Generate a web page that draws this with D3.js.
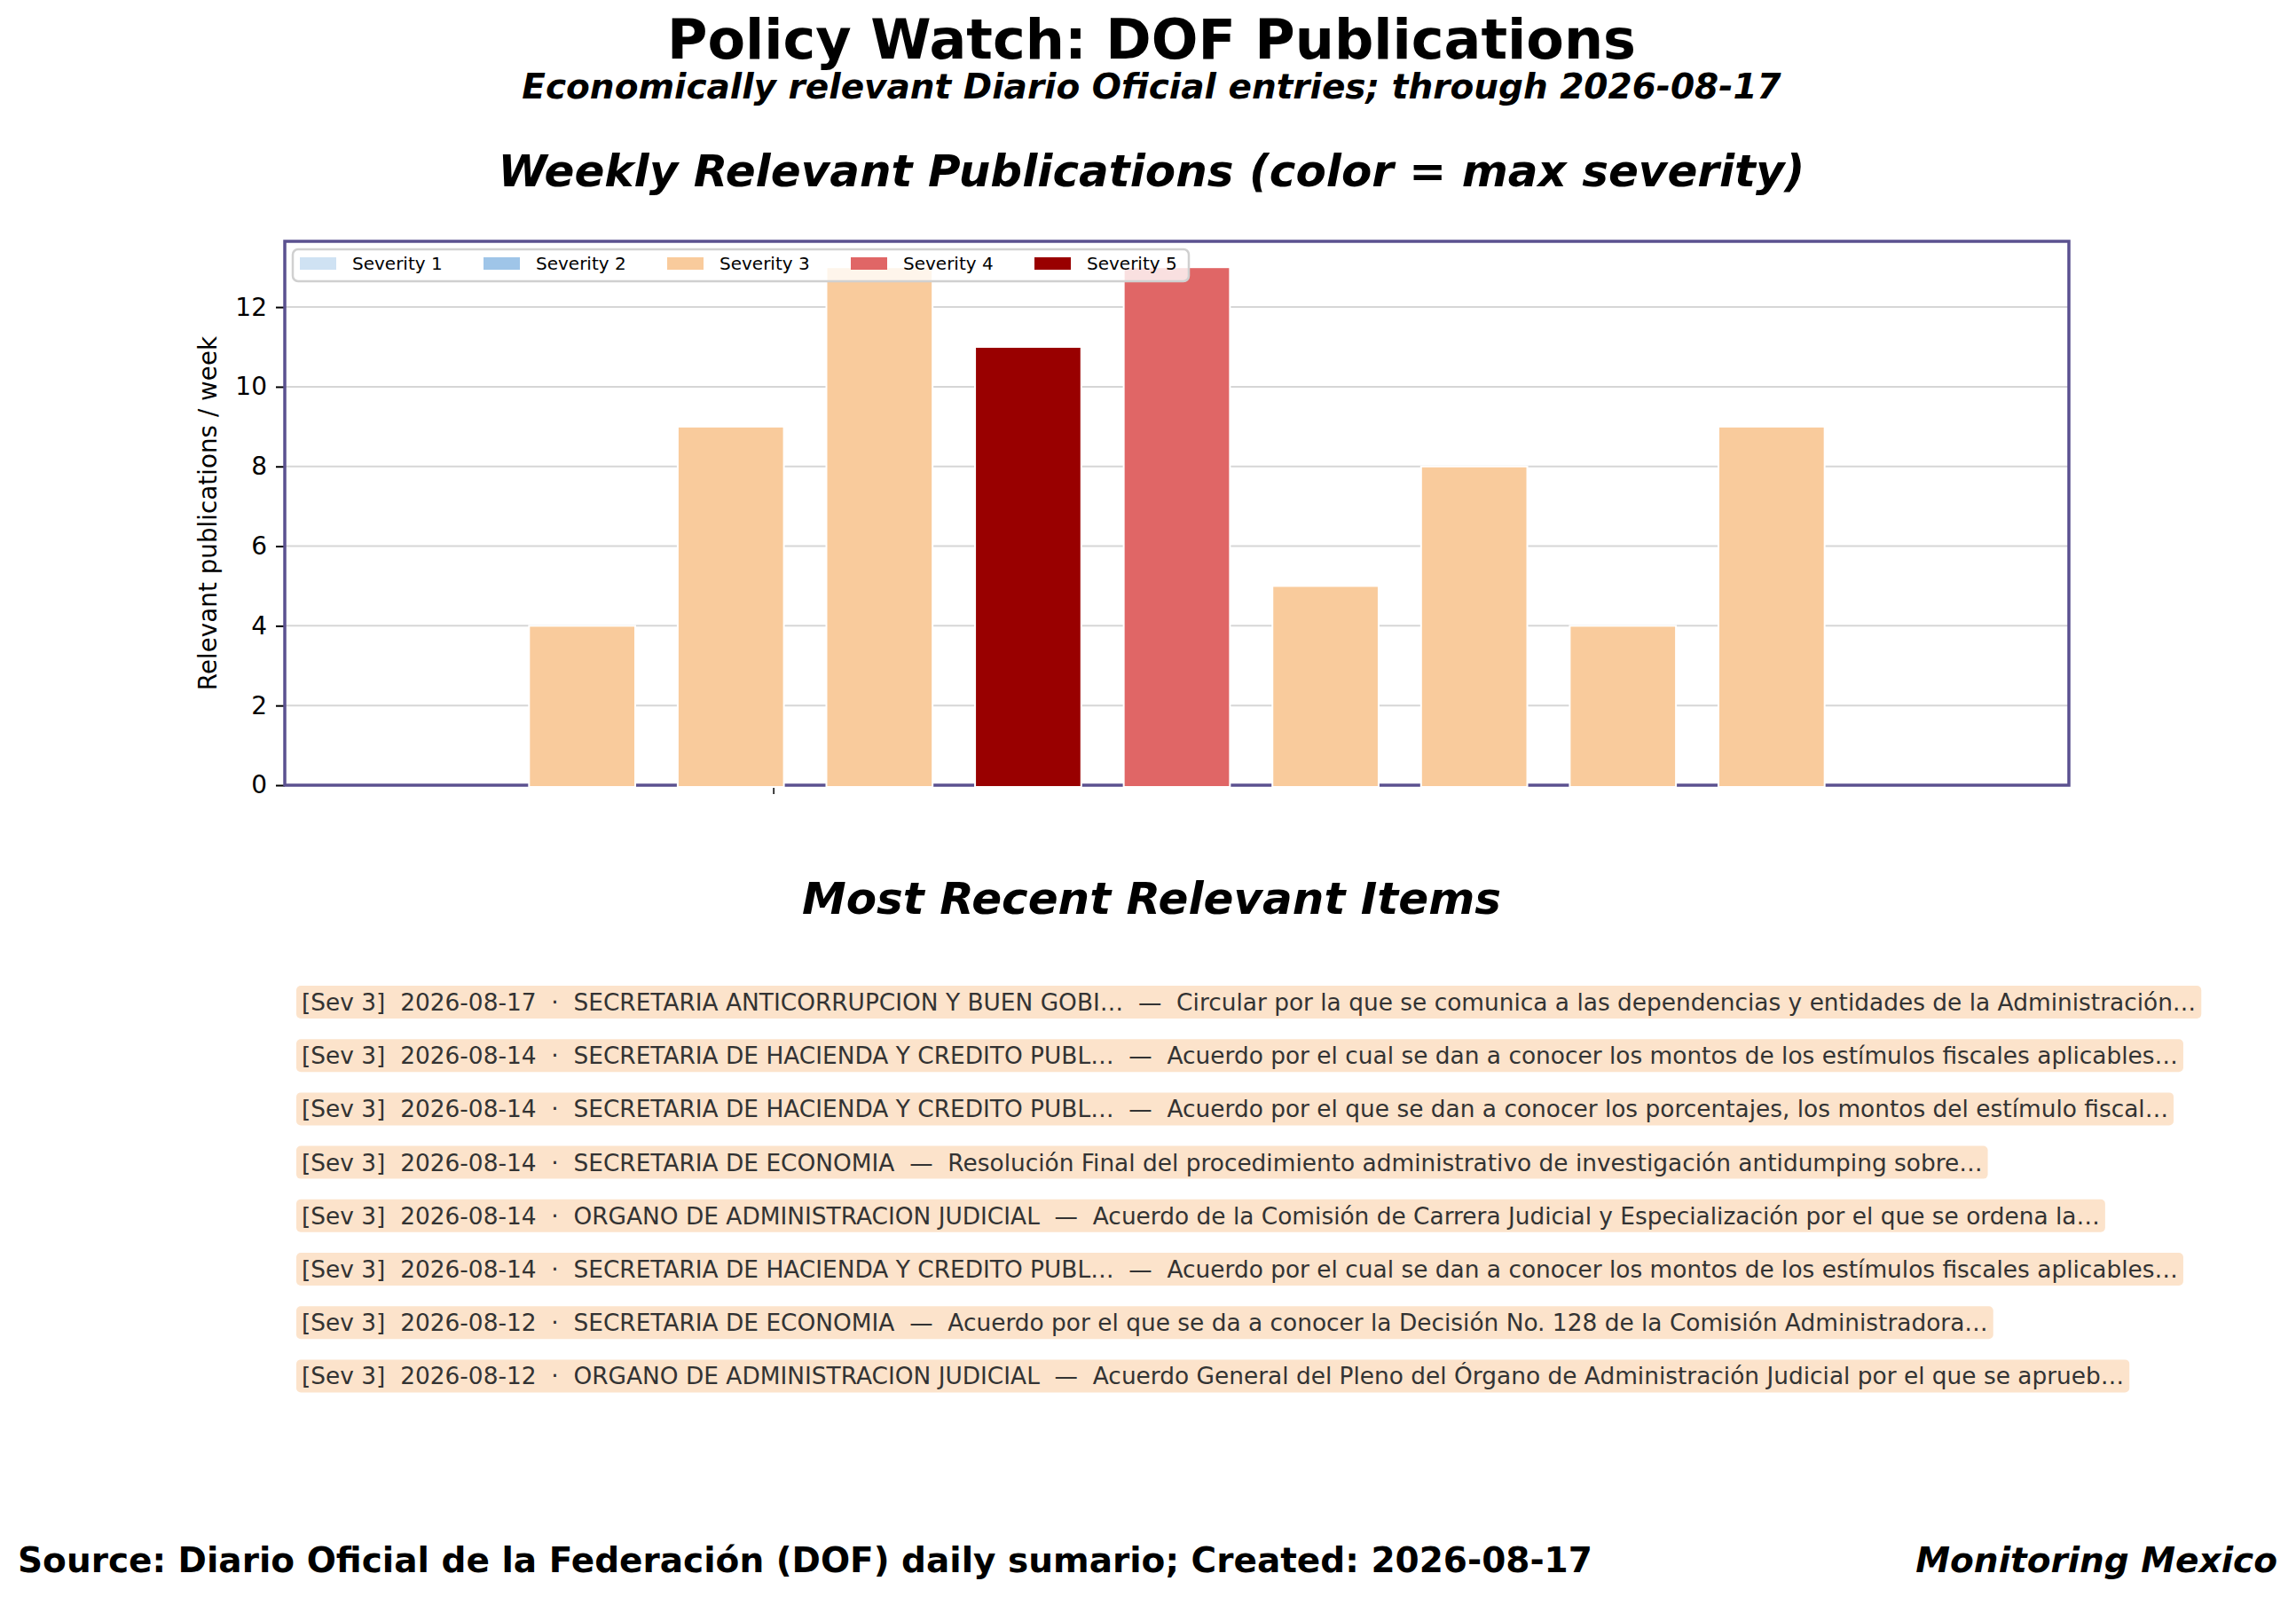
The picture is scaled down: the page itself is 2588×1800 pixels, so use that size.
<!DOCTYPE html>
<html>
<head>
<meta charset="utf-8">
<script src="https://cdn.jsdelivr.net/npm/d3@7"></script>
<style>
  body { margin: 0; background: #fff; }
  svg { display: block; font-family: "DejaVu Sans", sans-serif; }
  text { white-space: pre; }
</style>
</head>
<body>
<div id="chart"></div>
<script>
// Weekly counts (bar at week start date), colour = max severity of the week
const weekStarts = ["2026-06-22", "2026-06-29", "2026-07-06", "2026-07-13", "2026-07-20",
                    "2026-07-27", "2026-08-03", "2026-08-10", "2026-08-17"];
const weekCounts = [4, 9, 13, 11, 13, 5, 8, 4, 9];
const weekMaxSeverity = [3, 3, 3, 5, 4, 3, 3, 3, 3];

const severityLevels = [1, 2, 3, 4, 5];
const severityLabels = ["Severity 1", "Severity 2", "Severity 3", "Severity 4", "Severity 5"];
const severityColors = ["#cfe2f3", "#9fc5e8", "#f9cb9c", "#e06666", "#990000"];

const yTicks = [0, 2, 4, 6, 8, 10, 12];
const xTickDates = ["2026-07-01"];

// Most recent items
const itemSeverity = [3, 3, 3, 3, 3, 3, 3, 3];
const itemDates = ["2026-08-17", "2026-08-14", "2026-08-14", "2026-08-14",
                   "2026-08-14", "2026-08-14", "2026-08-12", "2026-08-12"];
const itemAgencies = [
  "SECRETARIA ANTICORRUPCION Y BUEN GOBI…",
  "SECRETARIA DE HACIENDA Y CREDITO PUBL…",
  "SECRETARIA DE HACIENDA Y CREDITO PUBL…",
  "SECRETARIA DE ECONOMIA",
  "ORGANO DE ADMINISTRACION JUDICIAL",
  "SECRETARIA DE HACIENDA Y CREDITO PUBL…",
  "SECRETARIA DE ECONOMIA",
  "ORGANO DE ADMINISTRACION JUDICIAL"
];
const itemTitles = [
  "Circular por la que se comunica a las dependencias y entidades de la Administración…",
  "Acuerdo por el cual se dan a conocer los montos de los estímulos fiscales aplicables…",
  "Acuerdo por el que se dan a conocer los porcentajes, los montos del estímulo fiscal…",
  "Resolución Final del procedimiento administrativo de investigación antidumping sobre…",
  "Acuerdo de la Comisión de Carrera Judicial y Especialización por el que se ordena la…",
  "Acuerdo por el cual se dan a conocer los montos de los estímulos fiscales aplicables…",
  "Acuerdo por el que se da a conocer la Decisión No. 128 de la Comisión Administradora…",
  "Acuerdo General del Pleno del Órgano de Administración Judicial por el que se aprueb…"
];

const width = 2588, height = 1800;
const margin = { top: 272, right: 256, bottom: 915, left: 321 };
const cx = 1298;
const spineColor = "#5b5190";

const svg = d3.select("#chart").append("svg")
  .attr("width", width)
  .attr("height", height);

// Titles
svg.append("text").attr("x", cx).attr("y", 66).attr("text-anchor", "middle")
  .style("font-size", "62px").style("font-weight", "bold")
  .text("Policy Watch: DOF Publications");
svg.append("text").attr("x", cx).attr("y", 111).attr("text-anchor", "middle")
  .style("font-size", "39px").style("font-weight", "bold").style("font-style", "italic")
  .text("Economically relevant Diario Oficial entries; through 2026-08-17");
svg.append("text").attr("x", cx).attr("y", 210).attr("text-anchor", "middle")
  .style("font-size", "50px").style("font-weight", "bold").style("font-style", "italic")
  .text("Weekly Relevant Publications (color = max severity)");

// Bar chart
const parse = d3.utcParse("%Y-%m-%d");
const DAY = 864e5;
const weeks = weekStarts.map((d, i) => ({
  date: parse(d), count: weekCounts[i], sev: weekMaxSeverity[i]
}));

const x0 = margin.left, x1 = width - margin.right;
const yTop = margin.top, yBot = height - margin.bottom;

const xScale = d3.scaleUtc()
  .domain([new Date(+weeks[0].date - 14 * DAY), new Date(+weeks[weeks.length - 1].date + 14 * DAY)])
  .range([x0, x1]);
const yScale = d3.scaleLinear()
  .domain([0, d3.max(weekCounts) * 1.05])
  .range([yBot, yTop]);
const color = d3.scaleOrdinal().domain(severityLevels).range(severityColors);

// grid
svg.append("g")
  .selectAll("line")
  .data(yTicks)
  .join("line")
  .attr("x1", x0).attr("x2", x1)
  .attr("y1", d => yScale(d)).attr("y2", d => yScale(d))
  .attr("stroke", "#d6d6d6")
  .attr("stroke-width", 2);

// y axis
const yAxis = svg.append("g")
  .attr("transform", `translate(${x0},0)`)
  .call(d3.axisLeft(yScale).tickValues(yTicks).tickSize(10).tickPadding(10));
yAxis.select(".domain").remove();
yAxis.selectAll(".tick line").attr("stroke", "#000").attr("stroke-width", 2);
yAxis.selectAll(".tick text")
  .style("font-size", "28px").style("font-family", "DejaVu Sans").attr("fill", "#000");

// x axis (single unlabeled tick)
const xAxis = svg.append("g")
  .attr("transform", `translate(0,${yBot})`)
  .call(d3.axisBottom(xScale).tickValues(xTickDates.map(parse)).tickSize(10).tickFormat(""));
xAxis.select(".domain").remove();
xAxis.selectAll(".tick line").attr("stroke", "#000").attr("stroke-width", 1.5);

// spines
svg.append("rect")
  .attr("x", x0).attr("y", yTop)
  .attr("width", x1 - x0).attr("height", yBot - yTop)
  .attr("fill", "none")
  .attr("stroke", spineColor)
  .attr("stroke-width", 3.5);

// bars
const barW = xScale(new Date(+weeks[0].date + 5 * DAY)) - xScale(weeks[0].date);
svg.append("g")
  .selectAll("rect")
  .data(weeks)
  .join("rect")
  .attr("x", d => xScale(d.date) - barW / 2)
  .attr("width", barW)
  .attr("y", d => yScale(d.count))
  .attr("height", d => yBot + 2 - yScale(d.count))
  .attr("fill", d => color(d.sev))
  .attr("stroke", "#fff")
  .attr("stroke-width", 2);

// y label
svg.append("text")
  .attr("transform", `translate(244,${(yTop + yBot) / 2}) rotate(-90)`)
  .attr("text-anchor", "middle")
  .style("font-size", "27.8px")
  .text("Relevant publications / week");

// legend
const legend = svg.append("g").attr("transform", `translate(330,281)`);
legend.append("rect")
  .attr("width", 1010).attr("height", 36)
  .attr("rx", 6)
  .attr("fill", "rgba(255,255,255,0.8)")
  .attr("stroke", "#d0d0d0")
  .attr("stroke-width", 2.5);
const entry = legend.selectAll("g.entry")
  .data(severityLevels)
  .join("g")
  .attr("class", "entry")
  .attr("transform", (d, i) => `translate(${8 + i * 207},9)`);
entry.append("rect")
  .attr("width", 41).attr("height", 14)
  .attr("fill", d => color(d));
entry.append("text")
  .attr("x", 59).attr("y", 14)
  .style("font-size", "20px")
  .text((d, i) => severityLabels[i]);

// Most recent items
svg.append("text").attr("x", cx).attr("y", 1030).attr("text-anchor", "middle")
  .style("font-size", "50px").style("font-weight", "bold").style("font-style", "italic")
  .text("Most Recent Relevant Items");

const items = itemDates.map((d, i) => ({
  label: `[Sev ${itemSeverity[i]}]  ${d}  ·  ${itemAgencies[i]}  —  ${itemTitles[i]}`,
  sev: itemSeverity[i]
}));
const rowY = d3.scaleLinear().domain([0, 1]).range([1139, 1199.2]);

const rows = svg.append("g")
  .selectAll("g")
  .data(items)
  .join("g")
  .attr("transform", (d, i) => `translate(340,${rowY(i)})`);
const bg = rows.append("rect")
  .attr("x", -6).attr("y", -28)
  .attr("height", 37)
  .attr("rx", 5)
  .attr("fill", "#fce3cb");
const labels = rows.append("text")
  .style("font-size", "26.4px")
  .attr("fill", "#333")
  .text(d => d.label);
labels.each(function (d, i) {
  const w = this.getComputedTextLength();
  d3.select(bg.nodes()[i]).attr("width", w + 12);
});

// Footer
svg.append("text").attr("x", 20).attr("y", 1772)
  .style("font-size", "39px").style("font-weight", "bold")
  .text("Source: Diario Oficial de la Federación (DOF) daily sumario; Created: 2026-08-17");
svg.append("text").attr("x", 2567).attr("y", 1772).attr("text-anchor", "end")
  .style("font-size", "39px").style("font-weight", "bold").style("font-style", "italic")
  .text("Monitoring Mexico");
</script>
</body>
</html>
